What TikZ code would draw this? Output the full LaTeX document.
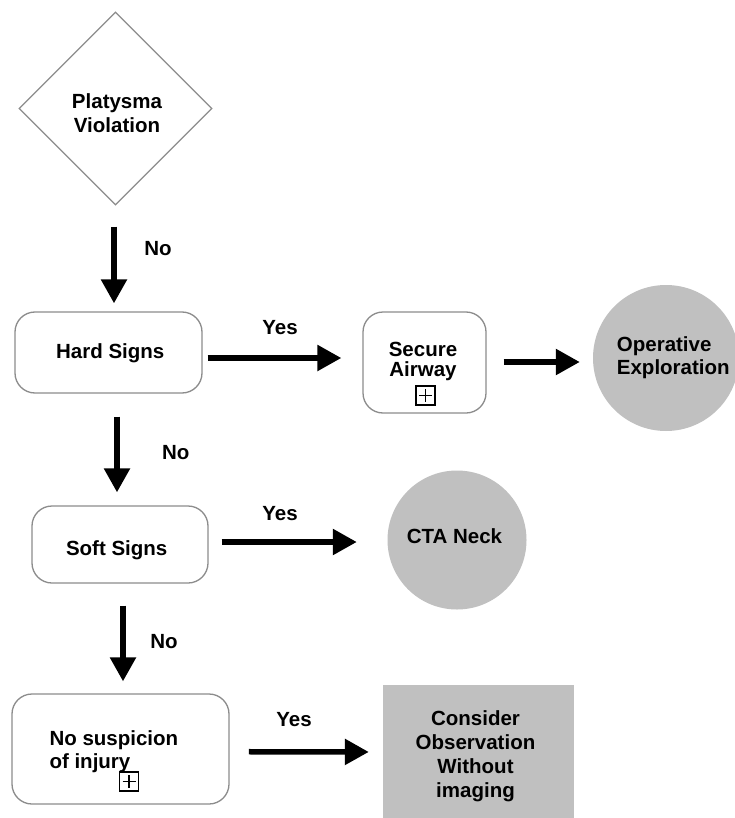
\documentclass[tikz,border=0pt]{standalone}
\usepackage{fontspec}
\setmainfont{Liberation Sans}
\usetikzlibrary{arrows.meta,shapes.geometric}
\definecolor{fillgray}{RGB}{192,192,192}
\definecolor{linegray}{RGB}{140,140,140}
\begin{document}
\begin{tikzpicture}[x=1pt,y=-1pt,
  every node/.style={font=\fontsize{20.5}{24}\selectfont\bfseries},
  rbox/.style={draw=linegray, line width=1.3pt, rounded corners=20pt, fill=white, inner sep=0pt},
  circ/.style={circle, fill=fillgray, inner sep=0pt},
  txt/.style={inner sep=0pt, align=center},
  lbl/.style={inner sep=0pt, anchor=base},
  arr/.style={line width=5.5pt, -{Triangle[length=24pt,width=25pt]}},
  plusbox/.style={draw=black, line width=1.1pt, minimum width=19pt, minimum height=19pt, inner sep=0pt,
    path picture={\draw[line width=1.1pt]
      ([xshift=3pt]path picture bounding box.west) -- ([xshift=-3pt]path picture bounding box.east)
      ([yshift=-3pt]path picture bounding box.north) -- ([yshift=3pt]path picture bounding box.south);}}
]
\useasboundingbox[fill=white] (0,0) rectangle (734,818);

% Decision diamond
\node[diamond, draw=linegray, line width=1.3pt, minimum width=193pt, minimum height=193pt, inner sep=0pt] (pv) at (115.5,108.5) {};
\node[txt] (pvt) at (117,113.5) {Platysma\\Violation};

% Hard signs
\node[rbox, minimum width=187pt, minimum height=81pt] (hard) at (108.5,352.5) {};
\node[lbl] (hardt) at (110.3,358.3) {Hard Signs};

% Secure airway
\node[rbox, minimum width=123pt, minimum height=101pt] (sec) at (424.5,362.5) {};
\node[txt, font=\fontsize{20.5}{20}\selectfont\bfseries] (sect) at (423,361.7) {Secure\\Airway};
\node[plusbox] (plus1) at (425.5,395.5) {};

% Operative exploration
\node[circ, minimum size=146pt] (op) at (666,358) {};
\node[inner sep=0pt, align=left, anchor=west, font=\fontsize{20.5}{23}\selectfont\bfseries] (opt) at (616.7,358) {Operative\\Exploration};

% Soft signs
\node[rbox, minimum width=176pt, minimum height=77pt] (soft) at (120,544.5) {};
\node[lbl] (softt) at (116.7,555) {Soft Signs};

% CTA neck
\node[circ, minimum size=139pt] (cta) at (457,540) {};
\node[lbl] (ctat) at (454.5,543.3) {CTA Neck};

% No suspicion
\node[rbox, minimum width=217pt, minimum height=110pt] (nos) at (120.5,749) {};
\node[inner sep=0pt, align=left, anchor=west, font=\fontsize{20.5}{23}\selectfont\bfseries] (nost) at (49.3,751.3) {No suspicion\\of injury};
\node[plusbox] (plus2) at (129,781.5) {};

% Consider observation
\node[rectangle, fill=fillgray, minimum width=191pt, minimum height=134pt, inner sep=0pt] (obs) at (478.5,752) {};
\node[txt] (obst) at (475.5,756.5) {Consider\\Observation\\Without\\imaging};

% Connectors
\draw[arr, shorten <=21pt, shorten >=8pt] ([xshift=-1.5pt]pv.south) -- ([xshift=5.5pt]hard.north);
\draw[arr, shorten <=23pt, shorten >=13pt] ([xshift=8.5pt]hard.south) -- ([xshift=-3pt]soft.north);
\draw[arr, shorten <=22pt, shorten >=12pt] ([xshift=3pt]soft.south) -- ([xshift=2.5pt]nos.north);
\draw[arr, shorten <=5pt, shorten >=21pt] ([yshift=-5.5pt]hard.east) -- ([yshift=4.5pt]sec.west);
\draw[arr, shorten <=17pt, shorten >=13pt] ([yshift=0.5pt]sec.east) -- ([yshift=-4pt]op.west);
\draw[arr, shorten <=13pt, shorten >=30.5pt] ([yshift=2.5pt]soft.east) -- ([yshift=-2pt]cta.west);
\draw[arr, shorten <=19.3pt, shorten >=14pt] ([yshift=-2.7pt]nos.east) -- (obs.west);

% Labels
\node[lbl] (no1) at (158,255) {No};
\node[lbl] (no2) at (175.7,459.3) {No};
\node[lbl] (no3) at (164,648.3) {No};
\node[lbl] (yes1) at (280,334) {Yes};
\node[lbl] (yes2) at (280,520.7) {Yes};
\node[lbl] (yes3) at (294,726.7) {Yes};
\end{tikzpicture}
\end{document}
